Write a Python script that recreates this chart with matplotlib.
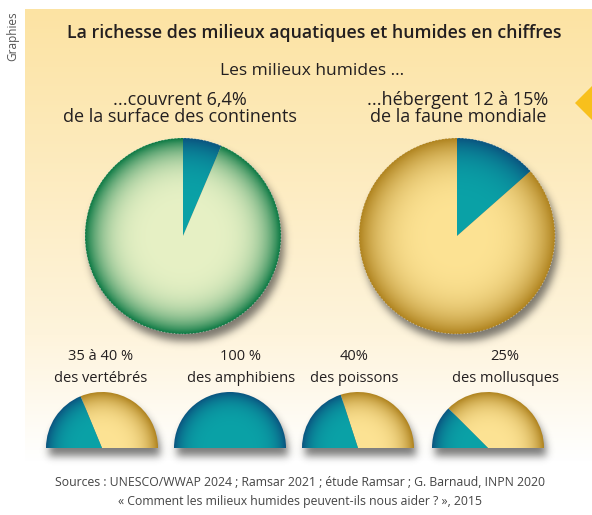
import numpy as np
import matplotlib
matplotlib.use("Agg")
import matplotlib.pyplot as plt
from matplotlib.patches import Polygon, Circle
from matplotlib.colors import to_rgb

W, H = 592, 515

# --- data ---
title = "La richesse des milieux aquatiques et humides en chiffres"
subtitle = "Les milieux humides ..."
big_line1 = ["...couvrent 6,4%", "...hébergent 12 à 15%"]
big_line2 = ["de la surface des continents", "de la faune mondiale"]
big_values = [6.4, 13.5]          # part en % (secteur bleu)
big_colors = ["green", "gold"]
small_line1 = ["35 à 40 %", "100 %", "40%", "25%"]
small_line2 = ["des vertébrés", "des amphibiens", "des poissons", "des mollusques"]
small_values = [37.5, 100, 40, 25]
sources = ["Sources : UNESCO/WWAP 2024 ; Ramsar 2021 ; étude Ramsar ; G. Barnaud, INPN 2020",
           "« Comment les milieux humides peuvent-ils nous aider ? », 2015"]

# --- layout (pixels, image coordinates) ---
big_cx = [183, 457]
big_cy = 236
big_r = 98
big_text_x = [180, 458]
small_cx = [102, 230, 358, 488]
small_text_x = [101, 241, 354, 505]
small_base = 448
small_r = 56

SHADES = {
    "teal": ("#0ba2a7", "#0a5580", 5.0),
    "gold": ("#fde394", "#b08420", 4.0),
    "green": ("#e7f1c5", "#0e7a45", 5.0),
}


def Y(y):
    return H - y


def shade(ax, patch, cx, cy, r, kind):
    c_in, c_out, p = SHADES[kind]
    c_in, c_out = np.array(to_rgb(c_in)), np.array(to_rgb(c_out))
    n = 240
    xs = np.linspace(-1, 1, n)
    xx, yy = np.meshgrid(xs, xs)
    d = np.sqrt(xx ** 2 + yy ** 2)
    t = np.clip(d, 0, 1) ** p
    img = c_in[None, None, :] * (1 - t[..., None]) + c_out[None, None, :] * t[..., None]
    im = ax.imshow(img, extent=(cx - r, cx + r, cy - r, cy + r), origin="lower",
                   interpolation="bilinear", zorder=4)
    im.set_clip_path(patch)
    patch.set_facecolor("none")


def gauss_blur(a, sigma):
    k = int(3 * sigma)
    g = np.exp(-np.arange(-k, k + 1) ** 2 / (2 * sigma ** 2))
    g /= g.sum()
    a = np.apply_along_axis(lambda m: np.convolve(m, g, mode="same"), 0, a)
    a = np.apply_along_axis(lambda m: np.convolve(m, g, mode="same"), 1, a)
    return a


fig = plt.figure(figsize=(W / 100, H / 100), dpi=100)
ax = fig.add_axes([0, 0, 1, 1])
fig.patch.set_facecolor("white")

# background gradient panel
top = np.array(to_rgb("#fce3a3"))
mid = np.array(to_rgb("#fef4dc"))
bot = np.array(to_rgb("#ffffff"))
rows = np.linspace(0, 1, 300)
col = np.where(rows[:, None] < 0.72,
               top + (mid - top) * (rows[:, None] / 0.72),
               mid + (bot - mid) * ((rows[:, None] - 0.72) / 0.28))
bg = np.repeat(col[:, None, :], 2, axis=1)
ax.imshow(bg, extent=(25, W, Y(462), Y(9)), origin="upper", aspect="auto",
          interpolation="bilinear", zorder=0)

# right arrow marker
ax.add_patch(Polygon([(575, Y(103)), (W, Y(86)), (W, Y(120))], closed=True,
                     color="#f8c01c", lw=0, zorder=1))

# soft shadows
yy, xx = np.mgrid[0:H, 0:W]
mask = np.zeros((H, W))
for cx in big_cx:
    mask[(xx - cx - 3) ** 2 + (yy - big_cy - 7) ** 2 <= big_r ** 2] = 1
for cx in small_cx:
    m = ((xx - cx - 2) ** 2 + (yy - small_base - 7) ** 2 <= small_r ** 2) & (yy <= small_base + 7)
    mask[m] = 1
mask = gauss_blur(mask, 4.0) * 0.6
shadow = np.zeros((H, W, 4))
shadow[..., 3] = mask
shadow[..., :3] = 0.15
ax.imshow(shadow, extent=(0, W, 0, H), origin="upper", interpolation="bilinear", zorder=2)

# big pies
for cx, val, kind in zip(big_cx, big_values, big_colors):
    wedges, _ = ax.pie([val, 100 - val], center=(cx, Y(big_cy)), radius=big_r,
                       startangle=90, counterclock=False, frame=True,
                       wedgeprops=dict(lw=0, zorder=3))
    shade(ax, wedges[0], cx, Y(big_cy), big_r, "teal")
    shade(ax, wedges[1], cx, Y(big_cy), big_r, kind)
    ax.add_patch(Circle((cx, Y(big_cy)), big_r, fill=False, ec="white", lw=0.6,
                        ls=(0, (1.5, 2.5)), alpha=0.5, zorder=5))

# small half pies
for cx, val in zip(small_cx, small_values):
    wedges, _ = ax.pie([100 - val, val, 100], center=(cx, Y(small_base)), radius=small_r,
                       startangle=0, counterclock=True, frame=True,
                       wedgeprops=dict(lw=0, zorder=3))
    shade(ax, wedges[0], cx, Y(small_base), small_r, "gold")
    shade(ax, wedges[1], cx, Y(small_base), small_r, "teal")
    wedges[2].set_visible(False)

ax.set_xlim(0, W)
ax.set_ylim(0, H)
ax.set_aspect("auto")
ax.axis("off")

plt.rcParams["font.family"] = ["Open Sans", "DejaVu Sans"]
dark = "#231f20"

ax.text(13, Y(36), "Graphies", rotation=90, ha="center", va="center",
        fontsize=8.5, color="#555555", zorder=6)
ax.text(314, Y(33), title, ha="center", va="center", fontsize=12.8,
        fontweight="semibold", color=dark, zorder=6)
ax.text(312, Y(71), subtitle, ha="center", va="center", fontsize=12.5,
        color=dark, zorder=6)
for x, l1, l2 in zip(big_text_x, big_line1, big_line2):
    ax.text(x, Y(100), l1, ha="center", va="center", fontsize=13, color=dark, zorder=6)
    ax.text(x, Y(117), l2, ha="center", va="center", fontsize=13, color=dark, zorder=6)
for x, l1, l2 in zip(small_text_x, small_line1, small_line2):
    ax.text(x, Y(356), l1, ha="center", va="center", fontsize=10.5, color=dark, zorder=6)
    ax.text(x, Y(379), l2, ha="center", va="center", fontsize=10.5, color=dark, zorder=6)
for i, s in enumerate(sources):
    ax.text(300, Y(483 + 19 * i), s, ha="center", va="center", fontsize=8.8,
            color="#444444", zorder=6)

fig.savefig("out.png", dpi=100, facecolor="white")
